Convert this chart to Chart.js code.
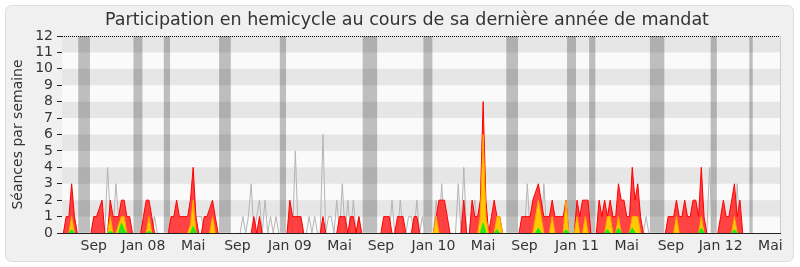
<!DOCTYPE html>
<html>
<head>
<meta charset="utf-8">
<script src="https://cdn.jsdelivr.net/npm/chart.js@4.4.1/dist/chart.umd.min.js"></script>
<style>
  html, body { margin: 0; padding: 0; background: #fff; }
  canvas { display: block; }
</style>
</head>
<body>
<canvas id="chart" width="800" height="267"></canvas>
<script>
// ── DATA (one value per week, mid-June 2007 → June 2012) ─────
const WEEKS = 260;

const tickWeeks = [11, 29, 47, 63, 82, 100, 115, 134, 152, 167, 186, 204, 220, 238, 256];
const tickNames = ['Sep', 'Jan 08', 'Mai', 'Sep', 'Jan 09', 'Mai', 'Sep', 'Jan 10', 'Mai', 'Sep', 'Jan 11', 'Mai', 'Sep', 'Jan 12', 'Mai'];

// weeks without sitting (grey bands)
const vacationWeeks = [6, 7, 8, 9, 26, 27, 28, 37, 38, 57, 58, 59, 60, 79, 80,
  109, 110, 111, 112, 113, 131, 132, 133, 161, 162, 163, 164, 183, 184, 185,
  191, 192, 213, 214, 215, 216, 217, 235, 236, 249];

// présences (red)
const presence = [
  0,1,1,3,1,0,0,0,0,0, 0,1,1,1.5,2,0,0,2,1,1,
  1,2,2,1,1,0,0,0,0,1, 2,2,1,0,0,0,0,0,0,1,
  1,2,1,1,1,1,2,4,1,0, 0,1,1,1.5,2,1,0,0,0,0,
  0,0,0,0,0,0,0,0,0,1, 0,1,0,0,0,0,0,0,0,0,
  0,0,2,1,1,1,1,0,0,0, 0,0,0,0,1,0,0,0,0,0,
  1,1,1,0,1,1,0,1,0,0, 0,0,0,0,0,0,1,1,1,0,
  0,1,1,1,0,0,0,1,1,0, 0,0,0,0,0,1,2,2,2,1,
  0,0,0,0,0,2,0,0,2,1, 1,2,8,2,0,1,2,1,1,0,
  0,0,0,0,0,0,1,1,1,1, 2,2.5,3,2,1,1,1,2,1,1,
  1,1,2,0,0,0,2,1,2,2, 2,0,0,0,2,1,2,1,2,1,
  1,3,2,2,1,1,4,2,3,1, 0,0,0,0,0,0,0,0,0,1,
  1,1,2,1,1,2,1,1,2,2, 1,4,1,0,0,0,0,0,1,2,
  1,1,2,3,1,2,0,0,0,0, 0,0,0,0,0,0,0,0,0,0
];

// interventions (yellow)
const interventions = [
  0,0,0,1,0,0,0,0,0,0, 0,0,0,0,0,0,0,1,0,0,
  0.5,1,1,0,0,0,0,0,0,0, 0,1,0,0,0,0,0,0,0,0,
  0,0,0,0,0,0,0.5,2,0,0, 0,0,0,0,1,0,0,0,0,0,
  0,0,0,0,0,0,0,0,0,0, 0,0,0,0,0,0,0,0,0,0,
  0,0,0,0,0,0,0,0,0,0, 0,0,0,0,0,0,0,0,0,0,
  0,0,0,0,0,0,0,0,0,0, 0,0,0,0,0,0,0,0,0,0,
  0,0,0,0,0,0,0,0,0,0, 0,0,0,0,0,1,0,0,0,0,
  0,0,0,0,0,0,0,0,0,0, 0,1,6,1,0,0,0,1,1,0,
  0,0,0,0,0,0,0,0,0,0, 0,1,2,1,0,0,0,1,0,0,
  0,0,2,0,0,0,1,0,0,1, 0,0,0,0,0,0,0,1,1,0,
  0,1,0,0,0,0,1,1,1,0, 0,0,0,0,0,0,0,0,0,0,
  0,0,1,0,0,0,0,0,0,0, 0,1,0,0,0,0,0,0,0,0,
  0,0,0,1,0,0,0,0,0,0, 0,0,0,0,0,0,0,0,0,0
];

// questions (green)
const questions = [
  0,0,0,0.2,0,0,0,0,0,0, 0,0,0,0,0,0,0,0.1,0,0,
  0,0.6,0.2,0,0,0,0,0,0,0, 0,0.1,0,0,0,0,0,0,0,0,
  0,0,0,0,0,0,0,0.4,0,0, 0,0,0,0,0,0,0,0,0,0,
  0,0,0,0,0,0,0,0,0,0, 0,0,0,0,0,0,0,0,0,0,
  0,0,0,0,0,0,0,0,0,0, 0,0,0,0,0,0,0,0,0,0,
  0,0,0,0,0,0,0,0,0,0, 0,0,0,0,0,0,0,0,0,0,
  0,0,0,0,0,0,0,0,0,0, 0,0,0,0,0,0,0,0,0,0,
  0,0,0,0,0,0,0,0,0,0, 0,0,0.6,0,0,0,0,0.2,0,0,
  0,0,0,0,0,0,0,0,0,0, 0,0,0.3,0,0,0,0,0,0,0,
  0,0,0.2,0,0,0,0,0,0,0, 0,0,0,0,0,0,0,0.2,0,0,
  0,0.3,0,0,0,0,0.3,0,0,0, 0,0,0,0,0,0,0,0,0,0,
  0,0,0,0,0,0,0,0,0,0, 0,0.3,0,0,0,0,0,0,0,0,
  0,0,0,0.2,0,0,0,0,0,0, 0,0,0,0,0,0,0,0,0,0
];

// médiane des députés (grey line)
const mediane = [
  0,0,0,1,1,0,0,0,0,0, 0,0,0,0,0,0,4,1,0,3,
  1,0,0,0,0,0,0,0,0,0, 0,0,0,1,0,0,0,0,0,0,
  0,0,0,0,0,0,0,0,1,1, 1,0,0,0,0,0,0,0,0,0,
  0,0,0,0,0,1,0,1,3,0, 1,2,0,2,0,1,0,1,0,0,
  0,0,1,0,5,0,1,0,0,1, 0,1,0,0,6,0,1,1,0,2,
  0,3,0,2,0,2,0,1,0,0, 0,0,0,0,0,0,0,0,0,2,
  0,0,2,0,0,1,1,0,2,0, 1,0,0,0,0,2,0,3,0,0,
  0,0,0,3,0,4,0,0,1,2, 0,0,0,0,0,0,0,0,0,0,
  0,0,0,0,0,0,0,0,3,0, 0,0,0,0,3,0,0,0,0,0,
  0,0,0,0,0,0,0,0,0,0, 0,0,0,0,0,0,0,0,0,0,
  0,0,0,0,0,0,0,0,0,0, 0,1,0,0,0,0,0,0,0,0,
  0,0,0,0,0,0,0,0,0,0, 0,0,0,0,4,0,0,0,0,0,
  0,0,0,0,3,0,0,0,0,0, 0,0,0,0,0,0,0,0,0,0
];

// ── BUILD ────────────────────────────────────────────────────
const labels = Array.from({ length: WEEKS }, (_, i) => {
  const k = tickWeeks.indexOf(i);
  return k >= 0 ? tickNames[k] : '';
});
const vacances = labels.map((_, i) => vacationWeeks.includes(i) ? 12 : null);

const FONT = 'DejaVu Sans';
const TXT = '#333333';

// frame, stripes, dotted top line
const decor = {
  id: 'decor',
  beforeDraw(chart) {
    const { ctx } = chart;
    ctx.save();
    ctx.fillStyle = '#ffffff';
    ctx.fillRect(0, 0, chart.width, chart.height);
    ctx.beginPath();
    ctx.roundRect(5.5, 5.5, 788, 256, 6);
    ctx.fillStyle = '#f0f0f0';
    ctx.fill();
    ctx.strokeStyle = '#dddddd';
    ctx.lineWidth = 1;
    ctx.stroke();
    ctx.restore();
  },
  beforeDatasetsDraw(chart) {
    const { ctx, chartArea: a } = chart;
    ctx.save();
    ctx.fillStyle = '#fafafa';
    ctx.fillRect(a.left, a.top, a.right - a.left, a.bottom - a.top);
    ctx.restore();
  },
  afterDatasetDraw(chart, args) {
    if (args.index !== 0) return; // right after the vacation bands
    const { ctx, chartArea: a, scales: { y } } = chart;
    ctx.save();
    ctx.fillStyle = 'rgba(0,0,0,0.08)';
    for (let v = 1; v < 12; v += 2) {
      const y1 = y.getPixelForValue(v + 1), y0 = y.getPixelForValue(v);
      ctx.fillRect(a.left, y1, a.right - a.left, y0 - y1);
    }
    ctx.restore();
  },
  afterDraw(chart) {
    const { ctx, chartArea: a } = chart;
    ctx.save();
    ctx.strokeStyle = '#cccccc';
    ctx.lineWidth = 1;
    ctx.beginPath();
    ctx.moveTo(a.right + 0.5, a.top);
    ctx.lineTo(a.right + 0.5, a.bottom);
    ctx.stroke();
    ctx.strokeStyle = '#000000';
    ctx.setLineDash([1, 1]);
    ctx.beginPath();
    ctx.moveTo(a.left, a.top + 0.5);
    ctx.lineTo(a.right, a.top + 0.5);
    ctx.stroke();
    ctx.restore();
  }
};

// hide the flat zero stretches of the outlines so the axis line stays dark
const hideFlat = { borderColor: c => (c.p0.parsed.y === 0 && c.p1.parsed.y === 0) ? 'rgba(0,0,0,0)' : undefined };

const area = (data, fillColor, lineColor, order) => ({
  type: 'line', data, order,
  borderColor: lineColor, backgroundColor: fillColor,
  borderWidth: 1, pointRadius: 0, tension: 0, fill: 'origin',
  segment: hideFlat
});

new Chart(document.getElementById('chart'), {
  data: {
    labels,
    datasets: [
      { type: 'bar', data: vacances, order: 5, backgroundColor: '#bebebe',
        borderWidth: 0, barPercentage: 1, categoryPercentage: 1 },
      { type: 'line', data: mediane, order: 4, borderColor: '#b4b4b4', borderWidth: 1,
        pointRadius: 0, tension: 0, fill: false, segment: hideFlat },
      area(presence, 'rgba(255,45,45,0.9)', '#ff0000', 3),
      area(interventions, 'rgba(255,210,0,0.95)', '#ffaa00', 2),
      area(questions, 'rgba(40,220,40,0.95)', '#00ff00', 1)
    ]
  },
  options: {
    responsive: false,
    animation: false,
    events: [],
    layout: { padding: { left: 34, right: 20, top: 4, bottom: 0 } },
    plugins: {
      legend: { display: false },
      tooltip: { enabled: false },
      title: {
        display: true,
        text: 'Participation en hemicycle au cours de sa dernière année de mandat',
        color: TXT,
        font: { family: FONT, size: 17.5, weight: 'normal' },
        padding: { top: 6, bottom: 5 }
      }
    },
    scales: {
      x: {
        z: 1,
        grid: { display: false, drawTicks: false },
        border: { color: '#222222' },
        ticks: {
          autoSkip: false, maxRotation: 0, padding: 5,
          color: TXT, font: { family: FONT, size: 14 },
          callback: (v, i) => labels[i]
        },
        afterFit(s) { s.height = 34; }
      },
      y: {
        z: 1,
        min: 0, max: 12,
        border: { color: '#222222' },
        grid: { drawOnChartArea: false, tickLength: 5, color: '#222222' },
        ticks: { stepSize: 1, autoSkip: false, padding: 4, color: TXT, font: { family: FONT, size: 14 } },
        title: {
          display: true, text: 'Séances par semaine', color: TXT,
          font: { family: FONT, size: 14 },
          padding: { top: -24.5, bottom: 0 }
        },
        afterFit(s) { s.width = 28; }
      }
    }
  },
  plugins: [decor]
});
</script>
</body>
</html>
